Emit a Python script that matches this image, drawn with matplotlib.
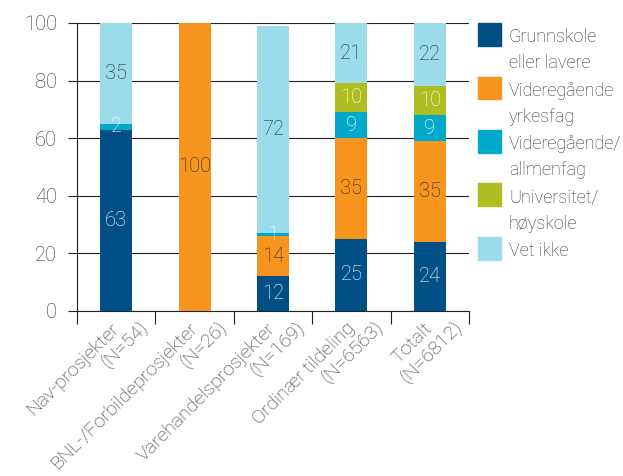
import matplotlib
matplotlib.use("Agg")
import matplotlib.pyplot as plt
from matplotlib.patches import Rectangle
import numpy as np

plt.rcParams['font.family'] = ['Roboto', 'DejaVu Sans']
plt.rcParams['font.weight'] = 'light'

categories_l1 = ["Nav-prosjekter", "BNL-/Forbildeprosjekter", "Varehandelsprosjekter",
                 "Ordinær tildeling", "Totalt"]
categories_l2 = ["(N=54)", "(N=26)", "(N=169)", "(N=6563)", "(N=6812)"]

series_names = [["Grunnskole", "eller lavere"], ["Videregående", "yrkesfag"],
                ["Videregående/", "allmenfag"], ["Universitet/", "høyskole"], ["Vet ikke"]]
grunnskole = [63, 0, 12, 25, 24]
vgs_yrkesfag = [0, 100, 14, 35, 35]
vgs_allmenfag = [2, 0, 1, 9, 9]
universitet = [0, 0, 0, 10, 10]
vet_ikke = [35, 0, 72, 21, 22]
series = [grunnskole, vgs_yrkesfag, vgs_allmenfag, universitet, vet_ikke]

colors = ["#004F86", "#F7941E", "#00A8CA", "#AEBD21", "#9ADCE9"]
label_colors = ["white", "#2a2a2a", "white", "white", "#2a2a2a"]
yticks = [0, 20, 40, 60, 80, 100]
txt = "#333333"

W, H = 623, 476
fig = plt.figure(figsize=(W / 100, H / 100), dpi=100)
ax = fig.add_axes([77 / W, 1 - 311 / H, (469 - 77) / W, (311 - 23) / H])

x = np.arange(len(categories_l1))
bottom = np.zeros(len(x))
for vals, c, lc in zip(series, colors, label_colors):
    v = np.array(vals, dtype=float)
    ax.bar(x, v, width=0.41, bottom=bottom, color=c, zorder=3, linewidth=0)
    for xi, b, vi in zip(x, bottom, v):
        if vi > 0:
            ax.text(xi, b + vi / 2, f"{int(vi)}", ha="center", va="center",
                    color=lc, fontsize=14.5, zorder=4)
    bottom += v

ax.set_xlim(-0.5, len(x) - 0.5)
ax.set_ylim(0, 100)
ax.set_yticks(yticks)
ax.set_yticklabels([str(t) for t in yticks])
ax.tick_params(axis="y", length=6.5, width=0.8, pad=8, labelsize=14.5,
               labelcolor=txt, color="#222222")
ax.grid(axis="y", color="#222222", linewidth=0.8, zorder=0)
ax.set_xticks(x)
ax.set_xticklabels([])
ax.tick_params(axis="x", which="major", length=0)
ax.set_xticks(np.arange(-0.5, len(x)), minor=True)
ax.tick_params(axis="x", which="minor", length=9.5, width=0.8, color="#222222")
for s in ["top", "right"]:
    ax.spines[s].set_visible(False)
for s in ["left", "bottom"]:
    ax.spines[s].set_color("#222222")
    ax.spines[s].set_linewidth(0.8)

trans = ax.get_xaxis_transform()
for xi, l1, l2 in zip(x, categories_l1, categories_l2):
    ax.annotate(l1, xy=(xi, 0), xycoords=trans, xytext=(-4.5, -6),
                textcoords="offset points", rotation=45, ha="right", va="top",
                rotation_mode="anchor", fontsize=14, color=txt)
    ax.annotate(l2, xy=(xi, 0), xycoords=trans, xytext=(16.5, -5),
                textcoords="offset points", rotation=45, ha="right", va="top",
                rotation_mode="anchor", fontsize=14, color=txt)

# legend
for i, (names, c) in enumerate(zip(series_names, colors)):
    top = 23 + i * 53.5
    fig.patches.append(Rectangle((478 / W, 1 - (top + 22.5) / H), 23 / W, 22.5 / H,
                                 transform=fig.transFigure, color=c))
    for j, nm in enumerate(names):
        fig.text(509 / W, 1 - (top + 19 + j * 26) / H, nm, ha="left", va="baseline",
                 fontsize=13, color=txt)

fig.savefig("out.png", dpi=100)
